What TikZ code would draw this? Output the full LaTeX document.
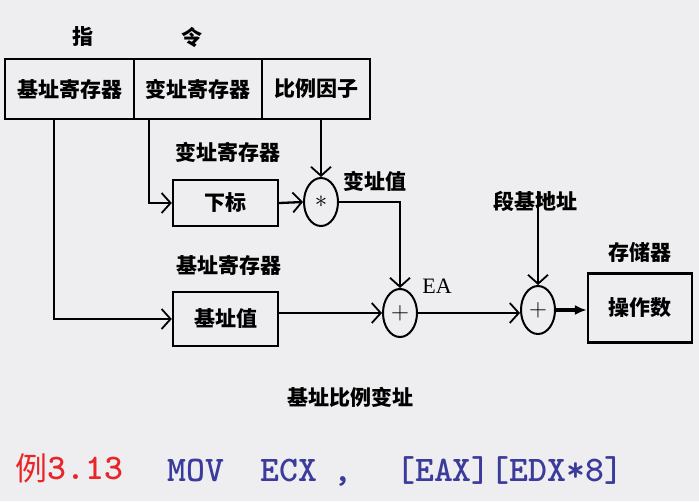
\documentclass[tikz,border=0pt]{standalone}
\usepackage{fontspec}
\usepackage{tikz}
\usetikzlibrary{arrows.meta,shapes.geometric}
\setmainfont{Liberation Serif}
\newfontfamily\cjk{Noto Sans CJK SC}
\definecolor{bg}{HTML}{EEEEF1}
\definecolor{exred}{HTML}{E8262A}
\definecolor{exblue}{HTML}{3B3B9C}

\begin{document}
\begin{tikzpicture}[x=1pt, y=-1pt,
    cn/.style={font=\cjk\bfseries\fontsize{21}{21}\selectfont, inner sep=0pt},
    reg/.style={draw, line width=2.6pt, minimum height=60pt, inner sep=0pt, cn},
    bx/.style={draw, line width=2.4pt, inner sep=0pt, cn},
    op/.style={draw, ellipse, line width=2pt, minimum width=34pt, minimum height=48pt, inner sep=0pt},
    ex/.style={font=\ttfamily\bfseries\fontsize{36}{36}\selectfont, text=exblue, inner sep=0pt, anchor=base west},
    arr/.style={line width=2.3pt, -{Straight Barb[length=9pt,width=20pt,line width=1.8pt]}}]
	\fill [bg] (0, 0) rectangle (699, 501);
	\useasboundingbox (0, 0) rectangle (699, 501);
	% instruction fields
	\node [cn] (z1) at (83, 37) {指};
	\node [cn] (z2) at (192, 37) {令};
	\node [reg, minimum width=129pt] (b1) at (69.5, 89) {基址寄存器};
	\node [reg, minimum width=128pt] (b2) at (198, 89) {变址寄存器};
	\node [reg, minimum width=108pt] (b3) at (316, 89) {比例因子};
	% registers
	\node [cn] (l1) at (228, 152) {变址寄存器};
	\node [bx, minimum width=105pt, minimum height=46pt] (idx) at (225.5, 203) {下标};
	\node [cn] (l2) at (229, 265) {基址寄存器};
	\node [bx, minimum width=105pt, minimum height=54pt] (base) at (225.5, 319) {基址值};
	% operators
	\node [op, font=\bfseries\fontsize{30}{30}\selectfont] (mul) at (321, 202) {$\ast$};
	\node [op, font=\fontsize{30}{30}\selectfont] (add1) at (400, 313) {$+$};
	\node [op, font=\fontsize{30}{30}\selectfont] (add2) at (538, 310) {$+$};
	\node [cn] (l3) at (375, 181) {变址值};
	\node [font=\fontsize{22}{22}\selectfont, inner sep=0pt] (ea) at (437, 286) {EA};
	\node [cn] (seg) at (535, 201) {段基地址};
	\node [cn] (l4) at (640, 252) {存储器};
	\node [bx, minimum width=104pt, minimum height=69pt] (mem) at (640, 308) {操作数};
	% connectors
	\draw [arr] ([xshift=-15.5pt]b1.south) |- (base.west);
	\draw [arr] ([xshift=-49pt]b2.south) |- (idx.west);
	\draw [arr] (b3.south -| mul.north) -- (mul.north);
	\draw [arr] (idx.east) -- (mul.west);
	\draw [arr] (mul.east) -| (add1.north);
	\draw [arr] (base.east |- add1.west) -- (add1.west);
	\draw [arr] (add1.east) -- (add1.east -| add2.west);
	\draw [arr] ([yshift=20pt]seg.south -| add2.north) -- (add2.north);
	\draw [line width=3.2pt, -{Latex[length=12pt,width=10pt]}] (add2.east) -- (add2.east -| mem.west);
	% caption
	\node [cn] (cap) at (350, 397) {基址比例变址};
	\node [font=\cjk\fontsize{32}{32}\selectfont, text=exred, inner sep=0pt] (li) at (31, 468) {例};
	\node [ex, text=exred, anchor=west] (num) at (li.east) {3.13};
	\node [ex] (mov) at (167, 481) {MOV};
	\node [ex] (ecx) at (260, 481) {ECX};
	\node [ex] (comma) at (333, 481) {,};
	\node [ex] (opnd) at (396, 481) {[EAX][EDX*8]};
\end{tikzpicture}
\end{document}
